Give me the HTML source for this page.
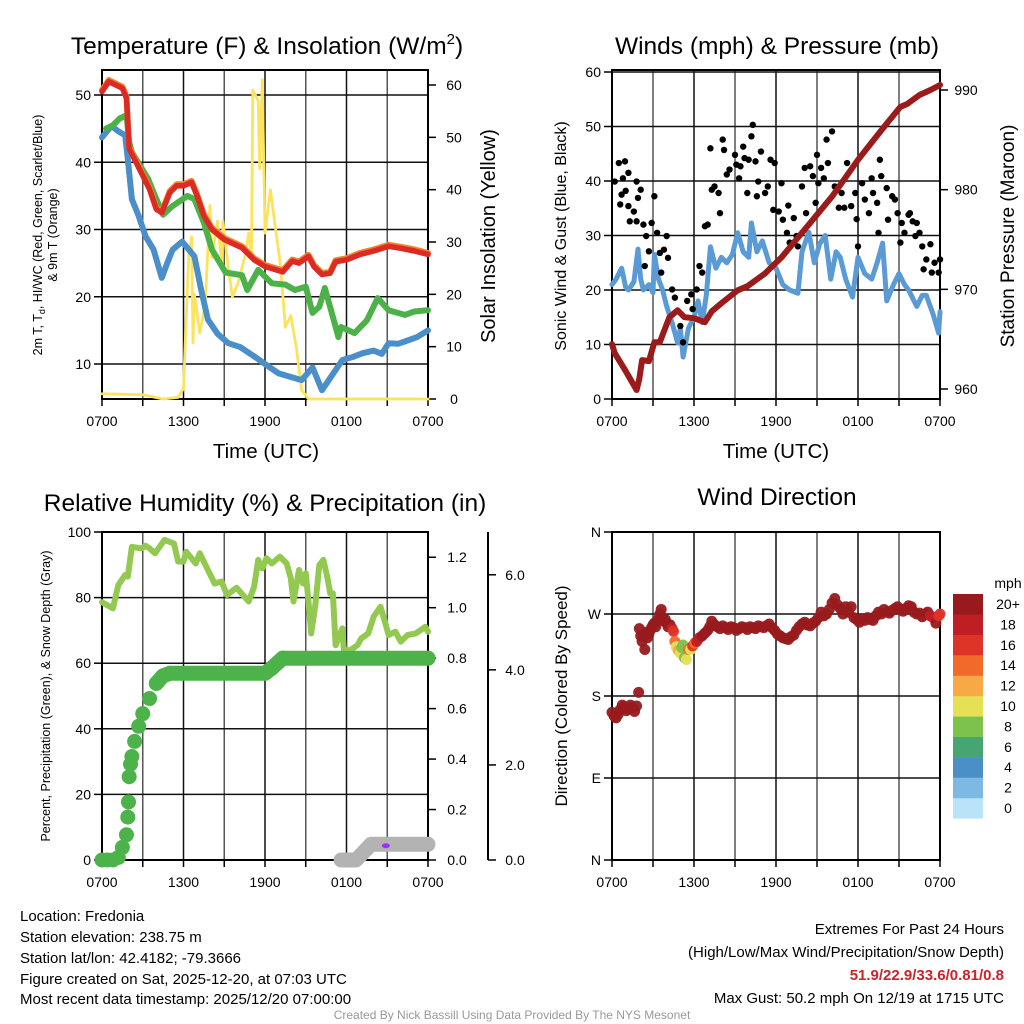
<!DOCTYPE html>
<html><head><meta charset="utf-8">
<style>
html,body{margin:0;padding:0;background:#fff;}
svg{display:block;font-family:"Liberation Sans",Arial,sans-serif;}
</style></head>
<body>
<svg id="chart" width="1024" height="1024" viewBox="0 0 1024 1024" xmlns="http://www.w3.org/2000/svg">
<rect width="1024" height="1024" fill="#fff"/>
<g id="layer"></g>
<!-- titles -->
<text x="267" y="54" font-size="24.5" text-anchor="middle">Temperature (F) &amp; Insolation (W/m<tspan font-size="15" dy="-10">2</tspan><tspan dy="10">)</tspan></text>
<text x="777" y="54" font-size="24.5" text-anchor="middle">Winds (mph) &amp; Pressure (mb)</text>
<text x="265" y="511" font-size="24.5" text-anchor="middle">Relative Humidity (%) &amp; Precipitation (in)</text>
<text x="777" y="505" font-size="24.5" text-anchor="middle">Wind Direction</text>
<!-- axis titles -->
<text x="266" y="458" font-size="20.5" text-anchor="middle">Time (UTC)</text>
<text x="776" y="458" font-size="20.5" text-anchor="middle">Time (UTC)</text>
<text transform="translate(42,235) rotate(-90)" font-size="12.5" text-anchor="middle">2m T, T<tspan font-size="9" dy="3">d</tspan><tspan dy="-3">, HI/WC (Red, Green, Scarlet/Blue)</tspan></text>
<text transform="translate(57,235) rotate(-90)" font-size="12.5" text-anchor="middle">&amp; 9m T (Orange)</text>
<text transform="translate(495,236) rotate(-90)" font-size="20" text-anchor="middle">Solar Insolation (Yellow)</text>
<text transform="translate(566,236) rotate(-90)" font-size="16" text-anchor="middle">Sonic Wind &amp; Gust (Blue, Black)</text>
<text transform="translate(1014,236) rotate(-90)" font-size="19" text-anchor="middle">Station Pressure (Maroon)</text>
<text transform="translate(50,696) rotate(-90)" font-size="12.5" text-anchor="middle">Percent, Precipitation (Green), &amp; Snow Depth (Gray)</text>
<text transform="translate(567,696) rotate(-90)" font-size="17" text-anchor="middle">Direction (Colored By Speed)</text>
<!-- footer -->
<g font-size="15">
<text x="20" y="921">Location: Fredonia</text>
<text x="20" y="942">Station elevation: 238.75 m</text>
<text x="20" y="963">Station lat/lon: 42.4182; -79.3666</text>
<text x="20" y="984">Figure created on Sat, 2025-12-20, at 07:03 UTC</text>
<text x="20" y="1004">Most recent data timestamp: 2025/12/20 07:00:00</text>
</g>
<g font-size="15" text-anchor="end">
<text x="1004" y="934">Extremes For Past 24 Hours</text>
<text x="1004" y="957">(High/Low/Max Wind/Precipitation/Snow Depth)</text>
<text x="1004" y="980" fill="#cc2228" font-weight="bold">51.9/22.9/33.6/0.81/0.8</text>
<text x="1004" y="1003">Max Gust: 50.2 mph On 12/19 at 1715 UTC</text>
</g>
<text x="512" y="1019" font-size="12" fill="#999" text-anchor="middle">Created By Nick Bassill Using Data Provided By The NYS Mesonet</text>
</svg>
<script>
// ---------- data ----------
const timeTickLabels = ["0700","1300","1900","0100","0700"];
const tempTicks = [10,20,30,40,50];
const solarTicks = [0,10,20,30,40,50,60];
const windTicks = [0,10,20,30,40,50,60];
const pressTicks = [960,970,980,990];
const rhTicks = [0,20,40,60,80,100];
const precipTicks = ["0.0","0.2","0.4","0.6","0.8","1.0","1.2"];
const snowTicks = ["0.0","2.0","4.0","6.0"];
const dirTickLabels = ["N","E","S","W","N"];
const speedBins = ["0","2","4","6","8","10","12","14","16","18","20+"];
const speedColors = ["#b8e3f8","#7db9e3","#4a8fc6","#47a572","#7cc24c","#e6e055","#f7a945","#f26a2a","#de3329","#bf1e24","#981a1d"];

const tempRed = [[0,50.5],[0.5,52],[1,51.5],[1.5,51],[1.8,49.5],[2,42],[2.5,40],[3,38],[3.5,36],[4,33],[4.4,32.5],[5,35.5],[5.5,36.5],[6,36.5],[6.6,37],[7,35],[7.5,32],[8.1,30],[9,28.5],[10.3,27.3],[11.2,25.5],[12,24.5],[13.3,23.7],[14,25.3],[14.5,25],[15.2,26],[15.6,24.5],[16.2,23.3],[16.8,23.5],[17.2,25.2],[18,25.5],[19,26.3],[20,26.8],[21.1,27.5],[22,27.2],[23,26.8],[24,26.3]];
const tempGreen = [[0.3,45],[0.8,45.5],[1.3,46.5],[1.8,47],[2,43],[2.2,41.5],[3.4,37.5],[3.9,35],[4.5,32.2],[5.2,33.5],[6.3,35],[6.8,34.5],[7.5,31],[8.1,27],[9.1,23.6],[10.3,23.2],[10.7,21],[11.5,24],[12.5,22],[13.5,21.8],[14.2,21],[15,21.5],[15.5,17.6],[16,18.5],[16.4,21.3],[17,17],[17.4,14],[17.6,15.5],[18.6,14.6],[19.5,16.5],[20.3,19.8],[21.1,18],[22.3,17.3],[23,17.8],[24,18]];
const tempBlue = [[0,43.7],[0.7,45.4],[1.2,44.6],[1.7,44],[1.9,40.5],[2.2,34.5],[2.7,32],[3.2,29],[3.8,27],[4.4,22.8],[4.8,25],[5.2,27],[5.9,28.2],[6.4,27],[6.8,26],[7.3,21],[7.8,16.6],[8.5,14.5],[9.3,13.1],[10.2,12.5],[11.3,11],[12,10],[13,8.6],[14,8],[14.7,7.6],[15.5,9.5],[16.2,6.1],[16.7,7.6],[17.7,10.6],[18.4,11],[19.2,11.6],[20,12],[20.6,11.5],[21.1,13.1],[21.8,13],[22.5,13.5],[23.2,14],[24,15]];
const solar = [[0,1],[3,0.8],[4.5,0],[5.6,0.3],[6.0,2],[6.15,12],[6.4,28],[6.6,31],[6.7,10.7],[6.8,20],[7.2,12.6],[7.6,18],[7.95,37],[8.1,27],[8.5,34],[8.85,25],[8.9,34],[9.3,25],[9.6,19.5],[10,22],[10.5,27],[10.8,31.7],[11,27],[11.1,59],[11.5,57],[11.6,44],[11.8,61],[12,31.7],[12.4,40],[12.8,32],[13.1,26.5],[13.5,13.7],[13.9,16],[14.3,10],[14.7,1.7],[15.2,0],[24,0]];
const windSpeed = [[0,21],[0.3,22],[0.7,24],[1,20.5],[1.2,20],[1.6,21.5],[1.9,27.5],[2.1,22],[2.3,20],[2.7,21],[3,19.5],[3.1,26.5],[3.4,22],[3.7,20],[4,17],[4.4,14],[4.8,10.3],[5.0,13],[5.2,7.7],[5.6,13],[6,15],[6.3,18],[6.6,14],[6.9,19],[7.2,27.9],[7.6,24],[8,26],[8.4,25],[8.8,26.5],[9.2,30.5],[9.6,27],[10,26],[10.2,32.3],[10.6,27],[11,29],[11.5,25],[12,24],[12.5,21],[13,20],[13.6,19.4],[13.9,27],[14.4,30.6],[14.8,25],[15.2,28.5],[15.6,30],[16,22],[16.4,27],[16.7,26],[17.1,22],[17.6,18.7],[18,26],[18.5,23],[19,22],[19.4,25],[19.8,28.6],[20.1,18],[20.6,21],[21,23],[21.4,21],[21.7,20],[22.3,17],[22.7,19],[23,19],[23.5,15.5],[23.9,12.1],[24,16]];
const gustDots = [[0.2,39.9],[0.5,43.3],[0.95,43.6],[0.6,35.7],[0.8,40.5],[1.2,41.5],[0.7,37.5],[1.2,35.4],[1.6,34.4],[1.8,39.9],[1.9,36.9],[2.1,38.4],[1.3,32.6],[1.8,32.6],[2.3,32],[2.5,29.9],[2.7,27.1],[2.9,32.3],[3.1,37.2],[3.3,30.5],[3.5,26.8],[3.8,27.4],[4,29.9],[4.1,25.9],[2.4,24.4],[3.6,23.2],[4.4,20.1],[4.6,18.6],[5,13.4],[5.2,10.4],[5.5,18],[5.8,19.2],[5.9,16.5],[6.2,20.1],[6.4,24.4],[6.6,23.2],[6.8,31.7],[7,32],[7.2,46],[7.3,38.4],[7.5,39],[7.8,37.8],[7.9,34.1],[8.1,47.6],[8.2,45.7],[8.4,41.2],[8.6,42.1],[9,44.8],[9.1,43],[9.4,42.7],[9.6,46.3],[9.7,44.2],[9.9,37.8],[10,43.9],[10.2,48.2],[10.3,50.3],[10.5,43.6],[10.6,37.2],[10.7,39.9],[10.9,45.4],[11.2,37.8],[11.4,39],[11.6,43.9],[11.8,34.7],[11.9,43.3],[12.2,34.4],[12.4,39.6],[12.5,32.9],[12.8,30.5],[13,28.7],[13.3,33.2],[13.5,29.9],[13.6,28],[13.9,39],[14.1,42.4],[14.2,34.1],[14.5,42.7],[14.7,40.9],[15,44.8],[15.1,39.6],[15.3,42.4],[15.5,40.5],[15.7,47.6],[16.1,49.1],[15.8,43.3],[16.3,39],[16.6,35.1],[16.8,37.8],[17,35.1],[17.2,43.3],[17.5,35.4],[17.8,37.8],[18,28],[18.3,39.6],[18.5,36.6],[18.8,34.1],[19,40.5],[19.1,37.8],[19.4,36],[19.5,30.5],[19.6,43.9],[19.7,40.9],[20.1,38.7],[20.2,32.9],[20.5,37.2],[20.7,36.6],[20.9,34.1],[21.1,28.7],[21.2,32.3],[21.4,30.5],[21.7,33.8],[21.8,34.1],[22,32.6],[22.2,29.9],[22.3,32.3],[22.5,30.5],[22.7,28],[22.8,23.8],[23,25.6],[23.3,28.4],[23.4,23.2],[23.6,25],[23.9,23.2],[24,25.6],[1.0,38.2],[9.3,40.5],[14.9,36],[12.9,35.5],[17.9,33]];
const pressure = [[0,964.5],[0.2,963.6],[1,961.8],[1.8,959.9],[2.0,961],[2.2,962.9],[2.7,962.8],[3.1,964.7],[3.5,964.7],[4.2,967.2],[4.8,967.9],[5.3,967.2],[6,967.1],[6.8,966.7],[7.3,967.8],[8,968.6],[9.2,969.9],[9.9,970.3],[11.2,971.6],[12.4,973.2],[14.1,976],[16.1,979.3],[18,983],[19.5,985.6],[20.2,986.8],[21.1,988.3],[21.6,988.6],[22.5,989.5],[23.3,990],[24,990.5]];
const humidity = [[0,78.6],[0.8,76.7],[1.2,83.8],[1.7,86.9],[1.9,86.4],[2.2,95.5],[2.9,95],[3.2,95.8],[3.5,95],[3.9,93.5],[4.6,97.6],[5.3,96.5],[5.6,91],[6,91],[6.2,94],[6.9,90.4],[7.2,93.5],[7.8,88.4],[8.3,84.3],[8.8,84.9],[9.2,80.8],[9.9,83],[10.8,78.8],[11.2,83.3],[11.5,91.5],[11.8,88.9],[12.1,92],[12.5,90.4],[13.1,92.5],[13.6,90.4],[13.9,85.9],[14.1,78.8],[14.5,88.4],[14.8,84.3],[15,87.4],[15.2,78.8],[15.4,69.1],[15.7,77.7],[16,89.9],[16.3,91.5],[16.6,85.9],[16.8,81.3],[17,81.3],[17.2,65.5],[17.7,70.6],[17.8,64],[18.3,64],[18.8,65.5],[19.1,67.6],[19.6,69.1],[20,74.2],[20.5,77.2],[20.9,71.6],[21.1,68.6],[21.6,69.6],[22,66.6],[22.5,68.6],[23.1,69.1],[23.8,71.1],[24,69.6]];
const precipDots = [[0,0],[0.4,0],[0.8,0],[1.2,0.01],[1.5,0.05],[1.8,0.1],[1.9,0.17],[1.95,0.23],[2.0,0.33],[2.1,0.38],[2.2,0.41],[2.4,0.47],[2.7,0.53],[3.0,0.58],[3.5,0.64],[4.0,0.70],[4.5,0.73],[5,0.74],[12,0.74],[12.5,0.76],[13.3,0.80],[24,0.80]];
const snowDepth = [[17.6,0],[18.7,0],[19.8,0.33],[24,0.33]];
const depthMarker = [[20.9,0.3]];
const windDirObs = [[0,162,22],[0.15,158,22],[0.3,156,22],[0.45,160,22],[0.6,165,22],[0.75,170,22],[0.9,168,22],[1.05,164,22],[1.2,166,22],[1.35,170,22],[1.5,167,22],[1.65,163,22],[1.8,169,22],[1.95,184,22],[2.0,254,22],[2.1,246,22],[2.2,240,22],[2.3,245,22],[2.4,231,22],[2.5,250,22],[2.6,244,22],[2.7,248,22],[2.8,252,22],[2.9,255,22],[3.0,258,22],[3.1,260,22],[3.2,256,22],[3.35,264,22],[3.5,270,22],[3.6,275,19],[3.7,266,22],[3.8,262,22],[3.9,264,22],[4.0,260,22],[4.1,256,21],[4.25,258,20],[4.4,254,17],[4.5,251,15],[4.6,240,13],[4.7,234,10],[4.85,230,11],[5.0,227,10],[5.1,233,8],[5.2,236,8],[5.3,222,7],[5.45,220,10],[5.6,231,14],[5.75,231,10],[5.9,235,15],[6.05,238,13],[6.2,240,17],[6.4,244,18],[6.6,246,20],[6.8,249,22],[7.0,252,22],[7.15,256,22],[7.3,262,22],[7.5,258,22],[7.7,256,22],[7.9,254,22],[8.1,257,22],[8.3,255,22],[8.5,253,22],[8.7,256,22],[8.9,255,22],[9.1,252,22],[9.3,254,22],[9.5,256,22],[9.7,255,22],[9.9,253,22],[10.1,256,22],[10.3,255,22],[10.5,254,22],[10.7,257,22],[10.9,256,22],[11.1,255,22],[11.3,257,22],[11.5,259,22],[11.7,255,22],[11.9,252,22],[12.1,248,22],[12.3,246,22],[12.5,244,22],[12.7,243,22],[12.9,242,22],[13.1,245,22],[13.3,247,22],[13.5,252,22],[13.7,256,22],[13.9,259,22],[14.1,261,22],[14.3,258,22],[14.5,257,22],[14.7,260,22],[14.9,262,22],[15.1,266,22],[15.3,272,22],[15.5,268,22],[15.7,270,22],[15.9,275,22],[16.1,282,22],[16.3,287,22],[16.5,280,22],[16.7,276,22],[16.9,270,22],[17.1,278,22],[17.3,272,22],[17.5,278,22],[17.7,266,22],[17.9,264,22],[18.1,261,22],[18.3,265,22],[18.5,263,22],[18.7,266,22],[18.9,264,22],[19.1,263,22],[19.3,268,22],[19.5,272,22],[19.7,270,22],[19.9,275,22],[20.1,272,22],[20.3,271,22],[20.5,274,22],[20.7,276,22],[20.9,278,22],[21.1,275,22],[21.3,273,22],[21.5,276,22],[21.7,279,22],[21.9,278,22],[22.1,272,22],[22.3,270,22],[22.5,271,22],[22.7,267,22],[22.9,270,22],[23.1,272,19],[23.3,268,18],[23.5,266,17],[23.7,260,20],[23.9,268,16],[24.0,270,15]];

// ---------- helpers ----------
const NS = "http://www.w3.org/2000/svg";
const layer = document.getElementById("layer");
function el(tag, attrs, parent) {
  const e = document.createElementNS(NS, tag);
  for (const k in attrs) e.setAttribute(k, attrs[k]);
  (parent || layer).appendChild(e);
  return e;
}
function xScale(p){ return t => p.x0 + t/24*(p.x1-p.x0); }
function linScale(d0,d1,r0,r1){ return v => r0 + (v-d0)/(d1-d0)*(r1-r0); }
function polyline(data, xs, ys, color, width, name) {
  const pts = data.map(d => xs(Math.min(d[0],24)).toFixed(1)+","+ys(d[1]).toFixed(1)).join(" ");
  const e = el("polyline", {points: pts, fill:"none", stroke: color, "stroke-width": width, "stroke-linejoin":"round", "stroke-linecap":"round"});
  
  
  return e;
}
function frame(p, name) {
  const g = el("g", {});
  
  
  const xs = xScale(p);
  for (let i=0;i<=8;i++){
    const x = xs(i*3);
    el("line",{x1:x,x2:x,y1:p.y0,y2:p.y1,stroke:(i%2? "#555":"#111"),"stroke-width":1.5},g);
    el("line",{x1:x,x2:x,y1:p.y1,y2:p.y1+7,stroke:"#000","stroke-width":1.5},g);
  }
  timeTickLabels.forEach((lab,i)=>{
    const t = el("text",{x:xs(i*6),y:p.y1+27,"font-size":14,"text-anchor":"middle"},g);
    t.textContent = lab;
    
    
  });
  return g;
}
function hgrid(p, ys, ticks, g){
  ticks.forEach(v=>el("line",{x1:p.x0,x2:p.x1,y1:ys(v),y2:ys(v),stroke:"#111","stroke-width":1.5},g));
}
function border(p, g){
  el("rect",{x:p.x0,y:p.y0,width:p.x1-p.x0,height:p.y1-p.y0,fill:"none",stroke:"#000","stroke-width":2},g);
}
function leftAxis(p, ys, ticks, labels, g){
  ticks.forEach((v,i)=>{
    el("line",{x1:p.x0-8,x2:p.x0,y1:ys(v),y2:ys(v),stroke:"#000","stroke-width":1.5},g);
    const t = el("text",{x:p.x0-11,y:ys(v)+5,"font-size":14,"text-anchor":"end"},g);
    t.textContent = labels? labels[i] : v;
    
    
  });
}
function rightAxis(x, ys, ticks, labels, g, lx){
  ticks.forEach((v,i)=>{
    const y = ys(typeof v==="string"? parseFloat(v): v);
    el("line",{x1:x,x2:x+8,y1:y,y2:y,stroke:"#000","stroke-width":1.5},g);
    const t = el("text",{x:lx,y:y+5,"font-size":14,"text-anchor":"middle"},g);
    t.textContent = labels? labels[i] : v;
    
    
  });
}

// ---------- panel 1: temperature ----------
const p1 = {x0:102,x1:428,y0:70,y1:399};
const x1s = xScale(p1);
const yT = linScale(10,50,364,95);
const yS = linScale(0,60,399,85);
const g1 = frame(p1,"temperature-panel");
hgrid(p1,yT,tempTicks,g1);
leftAxis(p1,yT,tempTicks,null,g1);
rightAxis(p1.x1,yS,solarTicks,null,g1,454);
polyline(solar,x1s,yS,"#fde35c",2.8,"solar-insolation-line");
polyline(tempBlue,x1s,yT,"#4a8fca",6,"windchill-line");
polyline(tempGreen,x1s,yT,"#4cb148",6,"dewpoint-line");
polyline(tempRed,x1s,yT,"#f5822a",6,"temp-9m-line").setAttribute("transform","translate(0,-1.5)");
polyline(tempRed,x1s,yT,"#dc2a24",5.5,"temp-2m-line");
border(p1,g1);

// ---------- panel 2: winds ----------
const p2 = {x0:612,x1:940,y0:70,y1:399};
const x2s = xScale(p2);
const yW = linScale(0,60,399,72);
const yP = linScale(960,990,389,90);
const g2 = frame(p2,"winds-panel");
hgrid(p2,yW,windTicks,g2);
leftAxis(p2,yW,windTicks,null,g2);
rightAxis(p2.x1,yP,pressTicks,null,g2,966);
polyline(windSpeed,x2s,yW,"#5b9bd5",5,"sonic-wind-line");
gustDots.forEach(d=>{
  const c = el("circle",{cx:x2s(Math.min(d[0],24)),cy:yW(d[1]),r:3.2,fill:"#000"});
  
  
});
polyline(pressure,x2s,yP,"#9b1b1b",6,"pressure-line");
border(p2,g2);

// ---------- panel 3: humidity & precip ----------
const p3 = {x0:102,x1:428,y0:532,y1:860};
const x3s = xScale(p3);
const yH = linScale(0,100,860,532);
const yPr = linScale(0,1.3,860,532);
const ySn = linScale(0,6.9,860,532);
const g3 = frame(p3,"humidity-panel");
hgrid(p3,yH,rhTicks,g3);
leftAxis(p3,yH,rhTicks,null,g3);
rightAxis(p3.x1,yPr,precipTicks,precipTicks,g3,457);
const ax2 = el("line",{x1:488,x2:488,y1:532,y2:860,stroke:"#000","stroke-width":2});


rightAxis(488,ySn,snowTicks,snowTicks,g3,515);
polyline(humidity,x3s,yH,"#93c950",6,"relative-humidity-line");
polyline(snowDepth,x3s,ySn,"#b3b3b3",15,"snow-depth-line");
depthMarker.forEach(d=>{
  const e = el("ellipse",{cx:x3s(d[0]),cy:ySn(d[1]),rx:4,ry:2.5,fill:"#9b30ff"});
  
  
});
polyline(precipDots.filter(d=>d[0]>=4),x3s,yPr,"#4cb34a",15,"precipitation-line");
precipDots.forEach(d=>{
  const c = el("circle",{cx:x3s(d[0]),cy:yPr(d[1]),r:7.5,fill:"#4cb34a"});
  
  
});
border(p3,g3);

// ---------- panel 4: wind direction ----------
const p4 = {x0:612,x1:940,y0:532,y1:860};
const x4s = xScale(p4);
const yD = linScale(0,360,860,532);
const g4 = frame(p4,"wind-direction-panel");
const dirTicks = [0,90,180,270,360];
hgrid(p4,yD,dirTicks,g4);
leftAxis(p4,yD,dirTicks,dirTickLabels,g4);
windDirObs.forEach(d=>{
  const bin = Math.min(10, Math.max(0, Math.round(d[2]/2)));
  const c = el("circle",{cx:x4s(d[0]),cy:yD(d[1]),r:5.5,fill:speedColors[bin],"fill-opacity":0.95});
  
  
});
border(p4,g4);
// colorbar
const cb = el("g",{});


const mph = el("text",{x:1008,y:588,"font-size":14,"text-anchor":"middle"},cb);
mph.textContent = "mph";
speedBins.forEach((lab,i)=>{
  const j = speedBins.length-1-i;
  const y = 594 + j*20.4;
  el("rect",{x:953,y:y,width:30,height:20.6,fill:speedColors[i]},cb);
  const t = el("text",{x:1008,y:y+15,"font-size":14,"text-anchor":"middle"},cb);
  t.textContent = lab;
  
  
});
</script>
</body></html>
